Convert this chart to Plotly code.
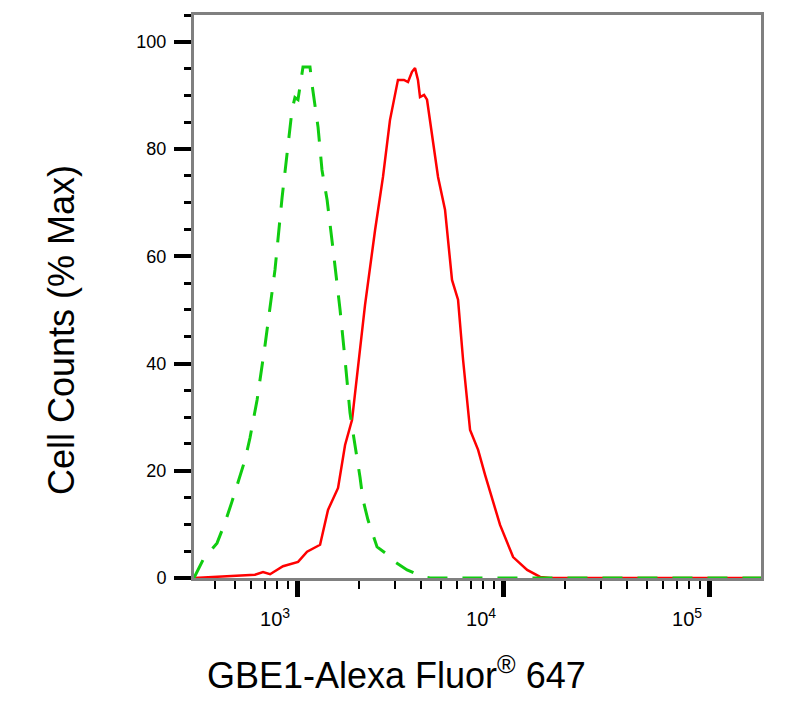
import plotly.graph_objects as go

# ---- data ----
red_x = [316, 423, 528, 625, 684, 740, 855, 1012, 1119, 1294, 1414, 1582, 1711, 1850,
         2138, 2393, 2614, 2826, 3090, 3304, 3457, 3615, 3739, 3864, 3954, 4137, 4276,
         4574, 4836, 5228, 5653, 6047, 6397, 6917, 7568, 8186, 8853, 9670, 11190, 13090,
         15140, 16920, 40000, 100000, 178600]
red_y = [0, 0.2, 0.4, 0.6, 1.1, 0.7, 2.2, 3.0, 4.9, 6.2, 12.7, 16.8, 24.8, 29.5,
         50.9, 64.9, 74.8, 85.4, 92.9, 92.9, 92.5, 94.4, 95.1, 92.9, 89.7, 90.1, 89.2,
         81.7, 74.8, 68.7, 55.6, 51.9, 40.7, 27.6, 23.9, 19.2, 14.6, 9.9, 3.9, 1.5,
         0.2, 0, 0, 0, 0]

green_x = [316, 327, 350, 409, 447, 483, 517, 559, 591, 640, 700, 782, 846, 894, 946,
           977, 1011, 1069, 1156, 1183, 1265, 1322, 1400, 1497, 1618, 1711, 1808, 1870,
           1955, 2022, 2090, 2211, 2446, 2673, 2992, 3422, 4090, 4425, 20000, 178600]
green_y = [0, 1.1, 3.4, 6.5, 10.3, 14.2, 17.9, 22.0, 26.1, 33.2, 43.5, 57.5, 70.9, 78.9,
           87.3, 89.6, 89.2, 95.3, 95.3, 92.0, 84.1, 76.1, 70.5, 61.2, 50.0, 40.7, 30.8,
           27.1, 22.6, 18.8, 14.6, 10.8, 5.8, 4.7, 3.0, 1.5, 0.2, 0, 0, 0]

x_major = [1000, 10000, 100000]
x_labels = ["10<sup>3</sup>", "10<sup>4</sup>", "10<sup>5</sup>"]
x_minor = [400, 500, 600, 700, 800, 900,
           2000, 3000, 4000, 5000, 6000, 7000, 8000, 9000,
           20000, 30000, 40000, 50000, 60000, 70000, 80000, 90000]
y_major = [0, 20, 40, 60, 80, 100]

x_title = "GBE1-Alexa Fluor<sup>®</sup> 647"
y_title = "Cell Counts (% Max)"

FONT = "Liberation Sans, Arial, Helvetica, sans-serif"

fig = go.Figure()
fig.add_trace(go.Scatter(x=red_x, y=red_y, mode="lines",
                         line=dict(color="#ff0000", width=2.5), showlegend=False))
fig.add_trace(go.Scatter(x=green_x, y=green_y, mode="lines",
                         line=dict(color="#10cc10", width=3, dash="20px,15px"),
                         showlegend=False))

fig.update_layout(
    width=805, height=712,
    margin=dict(l=194, r=44, t=15, b=134),
    paper_bgcolor="white", plot_bgcolor="white",
    font=dict(family=FONT, color="black"),
    xaxis=dict(
        type="log", range=[2.5, 5.252],
        showgrid=False, zeroline=False,
        showline=True, linecolor="#808080", linewidth=3, mirror=True,
        tickmode="array", tickvals=x_major, ticktext=x_labels,
        ticks="outside", ticklen=16, tickwidth=5, tickcolor="black",
        tickfont=dict(size=20, family=FONT),
        ticklabelshift=-22, ticklabelstandoff=5,
        minor=dict(tickvals=x_minor, ticks="outside", ticklen=8, tickwidth=2,
                   tickcolor="black", showgrid=False),
    ),
    yaxis=dict(
        range=[0, 105],
        showgrid=False, zeroline=False,
        showline=True, linecolor="#808080", linewidth=3, mirror=True,
        tickmode="array", tickvals=y_major,
        ticks="outside", ticklen=17, tickwidth=4, tickcolor="black",
        tickfont=dict(size=18, family=FONT),
        ticklabelstandoff=4,
        minor=dict(dtick=5, tick0=0, ticks="outside", ticklen=7, tickwidth=3,
                   tickcolor="black", showgrid=False),
    ),
    annotations=[
        dict(text=x_title, xref="paper", yref="paper", x=0.3563, y=0,
             xanchor="center", yanchor="middle", yshift=-95, showarrow=False,
             font=dict(size=36, family=FONT, color="black")),
        dict(text=y_title, xref="paper", yref="paper", x=-0.2328, y=0.4405,
             xanchor="center", yanchor="middle", textangle=-90, showarrow=False,
             font=dict(size=36, family=FONT, color="black")),
    ],
)

fig.write_html("out.html")
